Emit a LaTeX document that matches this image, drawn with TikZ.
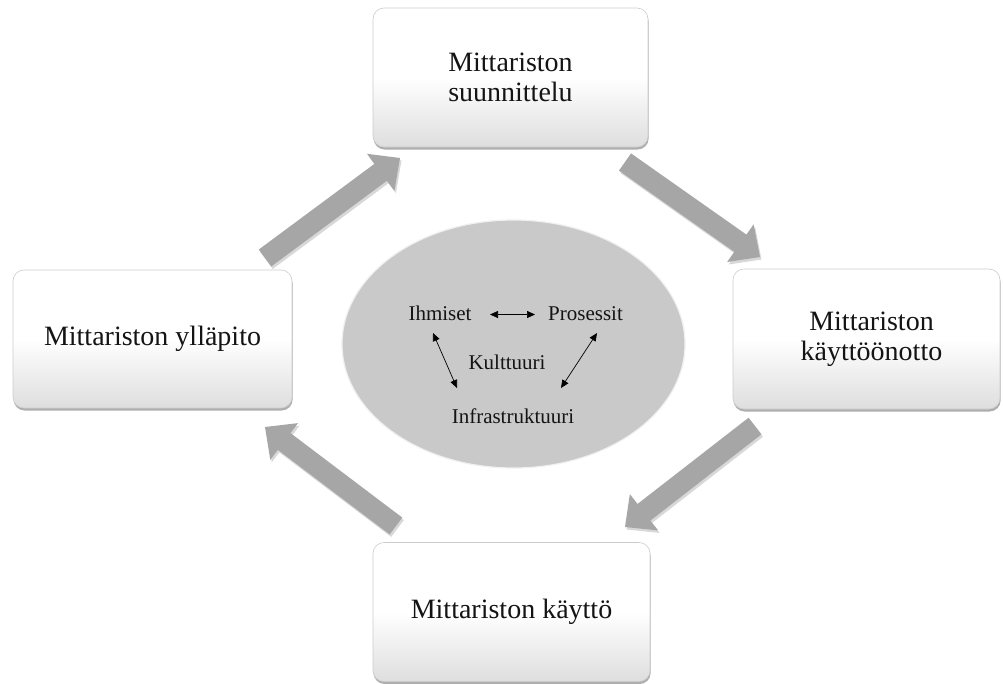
\documentclass[tikz,border=0pt]{standalone}
\usepackage{fontspec}
\setmainfont{Liberation Serif}
\usetikzlibrary{calc,shadows,shapes.geometric,arrows.meta}
\newcommand\blockarrow[3]{%
  \coordinate (#3h) at ($(#2)!24pt!(#1)$);
  \fill[blockarr] ($(#1)!10.5pt!90:(#2)$) -- ($(#3h)!10.5pt!-90:(#1)$) -- ($(#3h)!23pt!-90:(#1)$) -- (#2)
     -- ($(#3h)!23pt!90:(#1)$) -- ($(#3h)!10.5pt!90:(#1)$) -- ($(#1)!10.5pt!-90:(#2)$) -- cycle;
}
\begin{document}
\begin{tikzpicture}[x=1pt,y=-1pt,
  box/.style={rectangle, rounded corners=11pt, draw=black!20, line width=0.6pt,
    top color=white, bottom color=black!13, middle color=white,
    align=center, font=\fontsize{28}{30}\selectfont, inner sep=0pt, text=black!92,
    drop shadow={shadow xshift=0.6pt, shadow yshift=-2.5pt, opacity=.45, fill=black!70}},
  blockarr/.style={fill=black!35,
    drop shadow={shadow xshift=1.5pt, shadow yshift=-2.5pt, opacity=.25, fill=black!60}},
  core/.style={ellipse, fill=black!21, draw=black!6, line width=1.2pt, inner sep=0pt},
  inner/.style={font=\fontsize{21}{24}\selectfont, anchor=base, inner sep=0pt, text=black!92},
  thin/.style={line width=0.7pt, {Triangle[length=8pt,width=7pt]}-{Triangle[length=8pt,width=7pt]}}
]
\useasboundingbox (0,0) rectangle (1003,683);
\fill[white] (0,0) rectangle (1003,683);

% central ellipse
\node[core, minimum width=343pt, minimum height=248pt] (core) at (513.5,344) {};
\node[inner] (ih) at (440,320) {Ihmiset};
\node[inner] (pr) at (585.5,320) {Prosessit};
\node[inner] (ku) at (507,369) {Kulttuuri};
\node[inner] (inf) at (513,423) {Infrastruktuuri};

\coordinate (ihR) at (490,314.5);
\coordinate (prL) at (535,314.5);
\coordinate (ihB) at (433,333);
\coordinate (infL) at (457,388);
\coordinate (prB) at (597,333);
\coordinate (infR) at (561,388);
\draw[thin] (ihR) -- (prL);
\draw[thin] (ihB) -- (infL);
\draw[thin] (prB) -- (infR);

% block arrows
\coordinate (a1s) at (265,258); \coordinate (a1t) at (400,158);
\coordinate (a2s) at (625,162); \coordinate (a2t) at (760,257);
\coordinate (a3s) at (755,426); \coordinate (a3t) at (625,527);
\coordinate (a4s) at (396,526); \coordinate (a4t) at (265,427);
\blockarrow{a1s}{a1t}{a1}
\blockarrow{a2s}{a2t}{a2}
\blockarrow{a3s}{a3t}{a3}
\blockarrow{a4s}{a4t}{a4}

% boxes
\node[box, minimum width=275pt, minimum height=139pt] (top) at (510.5,77.5) {Mittariston\\suunnittelu};
\node[box, minimum width=267pt, minimum height=140pt] (right) at (866.5,339) {\hspace*{10pt}Mittariston\\\hspace*{10pt}käyttöönotto};
\node[box, minimum width=277pt, minimum height=139pt] (bottom) at (511.5,612) {Mittariston käyttö};
\node[box, minimum width=279pt, minimum height=138pt] (left) at (152.5,339) {Mittariston ylläpito};
\end{tikzpicture}
\end{document}
